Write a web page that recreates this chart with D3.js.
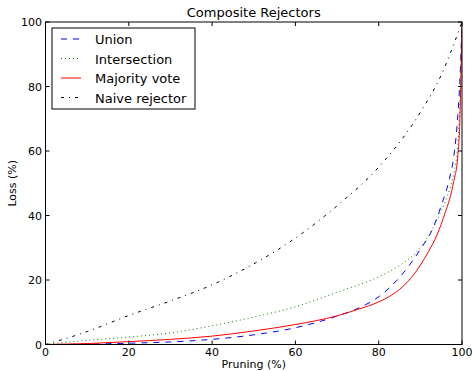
<!DOCTYPE html>
<html>
<head>
<meta charset="utf-8">
<script src="https://cdn.jsdelivr.net/npm/d3@7"></script>
<style>
  body { margin: 0; background: #fff; }
  svg { font-family: "DejaVu Sans", sans-serif; }
</style>
</head>
<body>
<svg id="chart" width="474" height="371"></svg>
<script>
// pruning (%) values where each curve was read
const unionX = [0, 10, 20, 30, 40, 50, 60, 70, 75, 80, 85, 90, 93, 95, 97, 98, 99, 99.5, 100];
const unionY = [0, 0.1, 0.4, 0.8, 1.6, 3.0, 5.2, 8.8, 11.2, 14.8, 20.8, 29.5, 36, 43, 51.5, 58, 71, 82, 100];

const interX = [0, 10, 20, 30, 40, 50, 60, 70, 80, 85, 90, 93, 95, 97, 98, 99, 99.5, 100];
const interY = [0, 1.3, 2.3, 3.6, 5.8, 8.5, 11.7, 16.2, 21, 24.5, 30, 36, 41.5, 48, 53, 62, 75, 100];

const majX = [0, 10, 20, 30, 40, 50, 60, 70, 75, 80, 82, 84, 86, 88, 90, 92, 94, 96, 97, 98, 99, 99.5, 100];
const majY = [0, 0.3, 0.9, 1.6, 2.6, 4.2, 6.2, 8.9, 10.9, 13.2, 14.5, 16.1, 18.2, 21.0, 24.6, 28.9, 34, 41, 45, 50.5, 58.5, 70, 100];

const naiveX = [0, 10, 20, 30, 40, 50, 60, 70, 80, 90, 95, 100];
const naiveY = [0, 4, 9, 13.5, 18.5, 25, 33, 43, 55, 72, 83.5, 100];

const xTicks = [0, 20, 40, 60, 80, 100];
const yTicks = [0, 20, 40, 60, 80, 100];

const series = [
  { name: "Union", xs: unionX, ys: unionY, color: "#0000ff", dash: "6,6" },
  { name: "Intersection", xs: interX, ys: interY, color: "#008000", dash: "1,3" },
  { name: "Majority vote", xs: majX, ys: majY, color: "#ff0000", dash: null },
  { name: "Naive rejector", xs: naiveX, ys: naiveY, color: "#000000", dash: "3,5,1,5" }
];

const plotL = 45.5, plotR = 462, plotT = 22, plotB = 344.5;

const svg = d3.select("#chart");
const x = d3.scaleLinear().domain([0, 100]).range([plotL, plotR]);
const y = d3.scaleLinear().domain([0, 100]).range([plotB, plotT]);

svg.append("clipPath").attr("id", "clip")
  .append("rect")
  .attr("x", plotL).attr("y", plotT)
  .attr("width", plotR - plotL).attr("height", plotB - plotT);

const line = d3.line()
  .x(d => x(d[0]))
  .y(d => y(d[1]))
  .curve(d3.curveMonotoneX);

const plot = svg.append("g").attr("clip-path", "url(#clip)");
series.forEach(s => {
  plot.append("path")
    .datum(s.xs.map((v, i) => [v, s.ys[i]]))
    .attr("d", line)
    .attr("fill", "none")
    .attr("stroke", s.color)
    .attr("stroke-width", 1)
    .attr("stroke-dasharray", s.dash);
});

// frame + inward ticks on all sides
svg.append("rect")
  .attr("x", plotL).attr("y", plotT)
  .attr("width", plotR - plotL).attr("height", plotB - plotT)
  .attr("fill", "none").attr("stroke", "#000").attr("stroke-width", 1);

const tickLen = 4;
xTicks.forEach(t => {
  svg.append("line").attr("x1", x(t)).attr("x2", x(t))
    .attr("y1", plotB).attr("y2", plotB - tickLen).attr("stroke", "#000");
  svg.append("line").attr("x1", x(t)).attr("x2", x(t))
    .attr("y1", plotT).attr("y2", plotT + tickLen).attr("stroke", "#000");
  svg.append("text").attr("x", x(t)).attr("y", 356)
    .attr("text-anchor", "middle").attr("font-size", 11).text(t);
});
yTicks.forEach(t => {
  svg.append("line").attr("x1", plotL).attr("x2", plotL + tickLen)
    .attr("y1", y(t)).attr("y2", y(t)).attr("stroke", "#000");
  svg.append("line").attr("x1", plotR).attr("x2", plotR - tickLen)
    .attr("y1", y(t)).attr("y2", y(t)).attr("stroke", "#000");
  svg.append("text").attr("x", 42).attr("y", y(t) + 4)
    .attr("text-anchor", "end").attr("font-size", 11).text(t);
});

svg.append("text")
  .attr("x", (plotL + plotR) / 2).attr("y", 17)
  .attr("text-anchor", "middle").attr("font-size", 13)
  .text("Composite Rejectors");

svg.append("text")
  .attr("x", (plotL + plotR) / 2).attr("y", 368)
  .attr("text-anchor", "middle").attr("font-size", 11)
  .text("Pruning (%)");

svg.append("text")
  .attr("transform", `translate(16,${(plotT + plotB) / 2}) rotate(-90)`)
  .attr("text-anchor", "middle").attr("font-size", 11)
  .text("Loss (%)");

// legend
const legend = svg.append("g");
legend.append("rect")
  .attr("x", 52).attr("y", 28).attr("width", 143).attr("height", 81)
  .attr("fill", "#fff").attr("stroke", "#000").attr("stroke-width", 1);
series.forEach((s, i) => {
  const ly = 39 + i * 19.5;
  legend.append("line")
    .attr("x1", 61).attr("x2", 81).attr("y1", ly).attr("y2", ly)
    .attr("stroke", s.color).attr("stroke-width", 1)
    .attr("stroke-dasharray", s.dash);
  legend.append("text")
    .attr("x", 95).attr("y", ly + 5)
    .attr("font-size", 13).text(s.name);
});
</script>
</body>
</html>
